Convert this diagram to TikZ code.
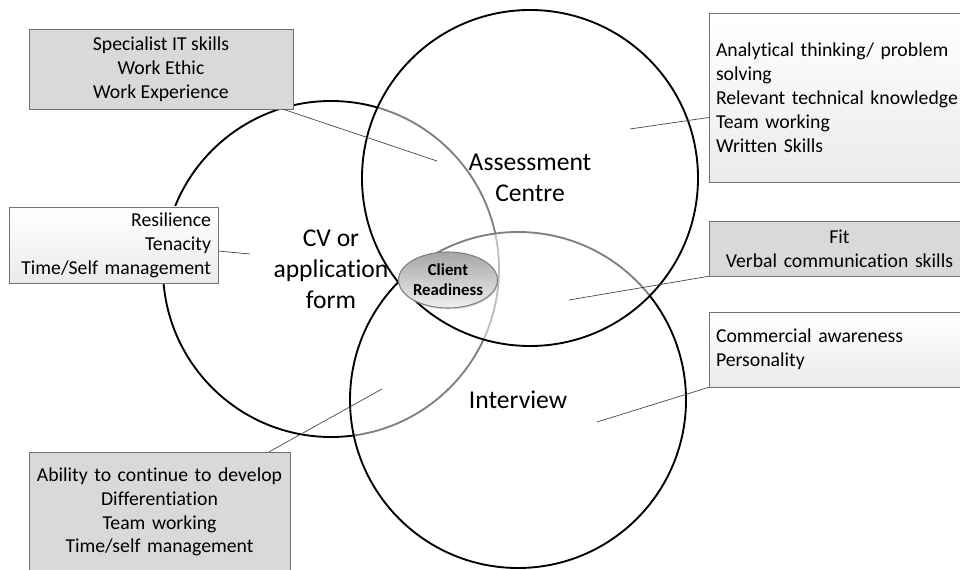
\documentclass[tikz,border=0pt]{standalone}
\usepackage{fontspec}
\setmainfont{Carlito}[Ligatures=NoCommon]
\usetikzlibrary{positioning, shapes, shadows, calc}
\tikzset{
    venn/.style={circle, draw, line width=1.4pt, fill=white, fill opacity=0.5, text opacity=1, minimum size=252pt, inner sep=0pt, align=center, font=\fontsize{19.2}{23.4}\selectfont}, % the three big circles, half see-through so the lines below turn grey
    boxtext/.style={draw=black!55, inner xsep=5.25pt, inner ysep=0pt, font=\fontsize{14.8}{17.9}\selectfont, drop shadow={shadow xshift=0.7pt, shadow yshift=-0.7pt, opacity=0.25}}, % common look of the skill boxes
    darkbox/.style={boxtext, fill=black!15}, % plain grey box
    lightbox/.style={boxtext, top color=white, bottom color=black!8}, % white to grey box
    link/.style={draw=black!75, line width=0.5pt}, % thin line from a box into a circle
    hub/.style={ellipse, draw=black!50, line width=0.8pt, top color=black!35, bottom color=black!6, minimum width=68pt, minimum height=42pt, inner sep=0pt, align=center, font=\fontsize{12.6}{15}\selectfont\bfseries, drop shadow={shadow xshift=0.6pt, shadow yshift=-1pt, opacity=0.3}}, % the middle ellipse
}

\begin{document}
\begin{tikzpicture}[x=0.75pt, y=-0.75pt]
        \useasboundingbox (0,0) rectangle (960,570);
        \clip (0,0) rectangle (960,570);

        \node[venn] (cv) at (331,269) {CV or\\application\\form};
        \node[venn] (interview) at (518,400) {Interview};
        \node[venn] (centre) at (530,178) {Assessment\\Centre};
        \node[hub] (client) at (448,280) {Client\\Readiness};

        \node[darkbox, minimum width=198pt, minimum height=60pt, align=center] (skills) at (161,69) {Specialist IT skills\\Work Ethic\\Work Experience};
        \node[lightbox, text width=146.25pt, minimum height=57pt, align=right] (grit) at (113.5,245) {Resilience\\Tenacity\\Time/Self management};
        \node[lightbox, text width=185.25pt, minimum height=126.75pt, align=left] (think) at (839.5,97.5) {Analytical thinking/ problem\\solving\\Relevant technical knowledge\\Team working\\Written Skills};
        \node[darkbox, text width=185.25pt, minimum height=41.25pt, align=center] (fit) at (839.5,248.5) {Fit\\Verbal communication skills};
        \node[lightbox, text width=185.25pt, minimum height=56.25pt, align=left] (commerce) at (839.5,349.5) {Commercial awareness\\Personality};
        \node[darkbox, text width=185.25pt, minimum height=90pt, align=center] (ability) at (159.5,512) {Ability to continue to develop\\Differentiation\\Team working\\Time/self management};

        \coordinate (skillsEnd) at (437,161);
        \coordinate (gritEnd) at (250,254);
        \coordinate (thinkEnd) at (630,129);
        \coordinate (fitEnd) at (569,300);
        \coordinate (commerceEnd) at (597,422);
        \coordinate (abilityEnd) at (382,389);

        \draw[link] ($(skills.south east)+(-10,0)$) -- (skillsEnd);
        \draw[link] ($(grit.east)+(0,6)$) -- (gritEnd);
        \draw[link] ($(think.west)+(0,20)$) -- (thinkEnd);
        \draw[link] (fit.south west) -- (fitEnd);
        \draw[link] (commerce.south west) -- (commerceEnd);
        \draw[link] ($(ability.north east)+(-21,0)$) -- (abilityEnd);
    \end{tikzpicture}
\end{document}
